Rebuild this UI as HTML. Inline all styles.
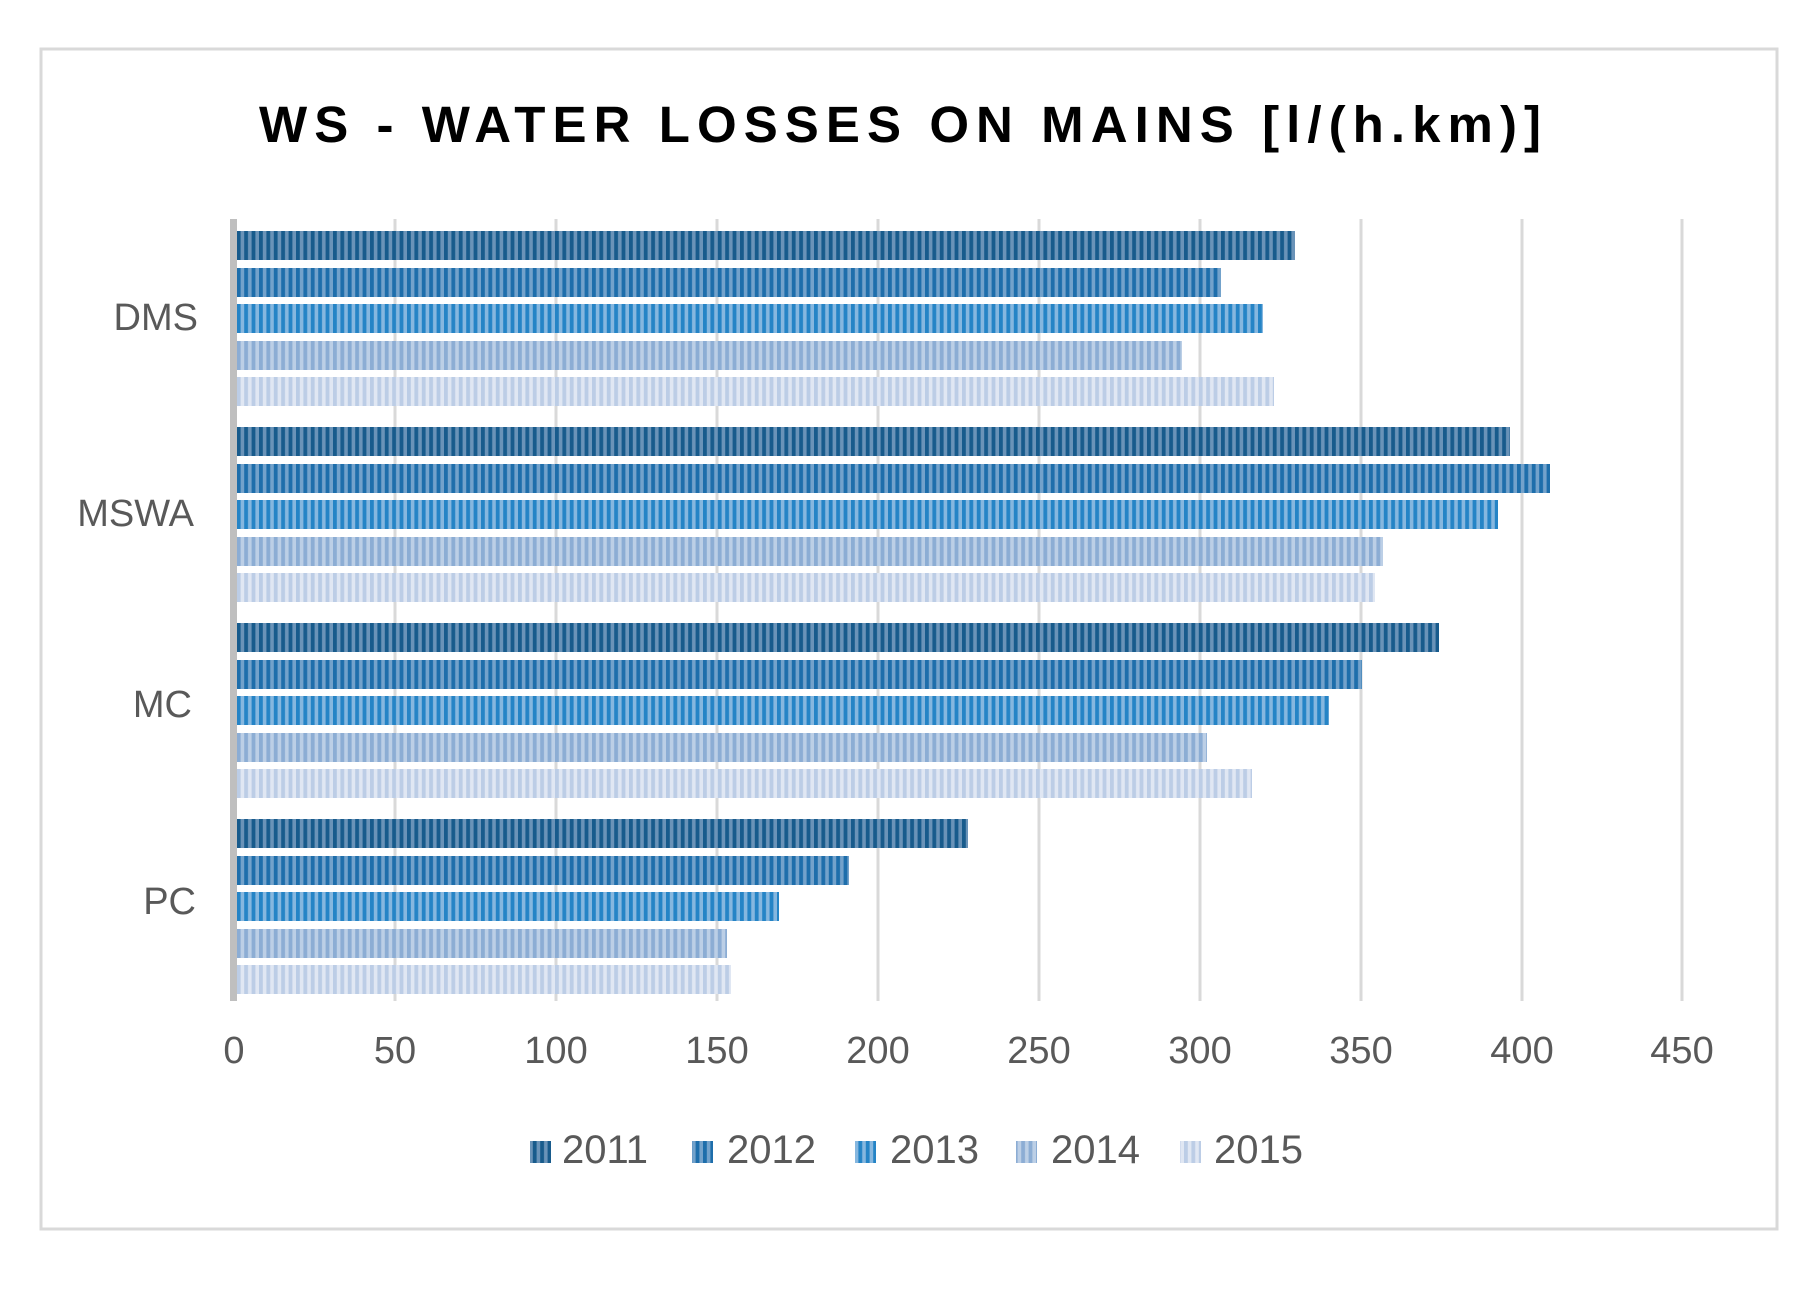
<!DOCTYPE html>
<html><head><meta charset="utf-8"><style>html,body{margin:0;padding:0;background:#fff}svg{display:block}</style></head>
<body>
<svg width="1820" height="1289" viewBox="0 0 1820 1289" xmlns="http://www.w3.org/2000/svg" font-family="Liberation Sans, sans-serif">
<defs>
<pattern id="p1" width="7.4" height="10" patternUnits="userSpaceOnUse"><rect width="7.4" height="10" fill="#6a93b8"/><rect width="3.8" height="10" fill="#185b8c"/></pattern>
<pattern id="p2" width="7.4" height="10" patternUnits="userSpaceOnUse"><rect width="7.4" height="10" fill="#73a2cb"/><rect width="3.8" height="10" fill="#1e6eab"/></pattern>
<pattern id="p3" width="7.4" height="10" patternUnits="userSpaceOnUse"><rect width="7.4" height="10" fill="#86b7df"/><rect width="3.8" height="10" fill="#2584c6"/></pattern>
<pattern id="p4" width="7.4" height="10" patternUnits="userSpaceOnUse"><rect width="7.4" height="10" fill="#bccfe6"/><rect width="3.8" height="10" fill="#8cadd4"/></pattern>
<pattern id="p5" width="7.4" height="10" patternUnits="userSpaceOnUse"><rect width="7.4" height="10" fill="#e0e7f3"/><rect width="3.8" height="10" fill="#bccde6"/></pattern>
</defs>
<rect x="41" y="49" width="1736" height="1180" fill="#fff" stroke="#d9d9d9" stroke-width="3"/>
<text x="259" y="142" font-size="51" font-weight="bold" fill="#000" textLength="1282" lengthAdjust="spacing">WS - WATER LOSSES ON MAINS [l/(h.km)]</text>
<g stroke="#d9d9d9" stroke-width="3">
<line x1="395" y1="219" x2="395" y2="1001"/><line x1="556" y1="219" x2="556" y2="1001"/><line x1="717" y1="219" x2="717" y2="1001"/><line x1="878" y1="219" x2="878" y2="1001"/><line x1="1039" y1="219" x2="1039" y2="1001"/><line x1="1200" y1="219" x2="1200" y2="1001"/><line x1="1361" y1="219" x2="1361" y2="1001"/><line x1="1522" y1="219" x2="1522" y2="1001"/><line x1="1682" y1="219" x2="1682" y2="1001"/>
</g>
<g>
<rect x="237" y="231" width="1058" height="29" fill="url(#p1)"/>
<rect x="237" y="268" width="984" height="29" fill="url(#p2)"/>
<rect x="237" y="304" width="1026" height="29" fill="url(#p3)"/>
<rect x="237" y="341" width="945" height="29" fill="url(#p4)"/>
<rect x="237" y="377" width="1037" height="29" fill="url(#p5)"/>

<rect x="237" y="427" width="1273" height="29" fill="url(#p1)"/>
<rect x="237" y="464" width="1313" height="29" fill="url(#p2)"/>
<rect x="237" y="500" width="1261" height="29" fill="url(#p3)"/>
<rect x="237" y="537" width="1146" height="29" fill="url(#p4)"/>
<rect x="237" y="573" width="1138" height="29" fill="url(#p5)"/>

<rect x="237" y="623" width="1202" height="29" fill="url(#p1)"/>
<rect x="237" y="660" width="1125" height="29" fill="url(#p2)"/>
<rect x="237" y="696" width="1092" height="29" fill="url(#p3)"/>
<rect x="237" y="733" width="970" height="29" fill="url(#p4)"/>
<rect x="237" y="769" width="1015" height="29" fill="url(#p5)"/>

<rect x="237" y="819" width="731" height="29" fill="url(#p1)"/>
<rect x="237" y="856" width="612" height="29" fill="url(#p2)"/>
<rect x="237" y="892" width="542" height="29" fill="url(#p3)"/>
<rect x="237" y="929" width="490" height="29" fill="url(#p4)"/>
<rect x="237" y="965" width="494" height="29" fill="url(#p5)"/>
</g>
<rect x="230" y="219" width="7" height="782" fill="#bfbfbf"/>
<g font-size="38" fill="#595959" text-anchor="end">
<text x="198" y="330">DMS</text>
<text x="194" y="526">MSWA</text>
<text x="192" y="717">MC</text>
<text x="196" y="914">PC</text>
</g>
<g font-size="38" fill="#595959" text-anchor="middle">
<text x="234" y="1063">0</text><text x="395" y="1063">50</text><text x="556" y="1063">100</text><text x="717" y="1063">150</text><text x="878" y="1063">200</text><text x="1039" y="1063">250</text><text x="1200" y="1063">300</text><text x="1361" y="1063">350</text><text x="1522" y="1063">400</text><text x="1682" y="1063">450</text>
</g>
<g font-size="40" fill="#595959">
<rect x="530" y="1141" width="21" height="22" fill="url(#p1)"/><text x="562" y="1163">2011</text>
<rect x="692" y="1141" width="21" height="22" fill="url(#p2)"/><text x="727" y="1163">2012</text>
<rect x="855" y="1141" width="21" height="22" fill="url(#p3)"/><text x="890" y="1163">2013</text>
<rect x="1016" y="1141" width="21" height="22" fill="url(#p4)"/><text x="1051" y="1163">2014</text>
<rect x="1180" y="1141" width="21" height="22" fill="url(#p5)"/><text x="1214" y="1163">2015</text>
</g>
</svg>
</body></html>
